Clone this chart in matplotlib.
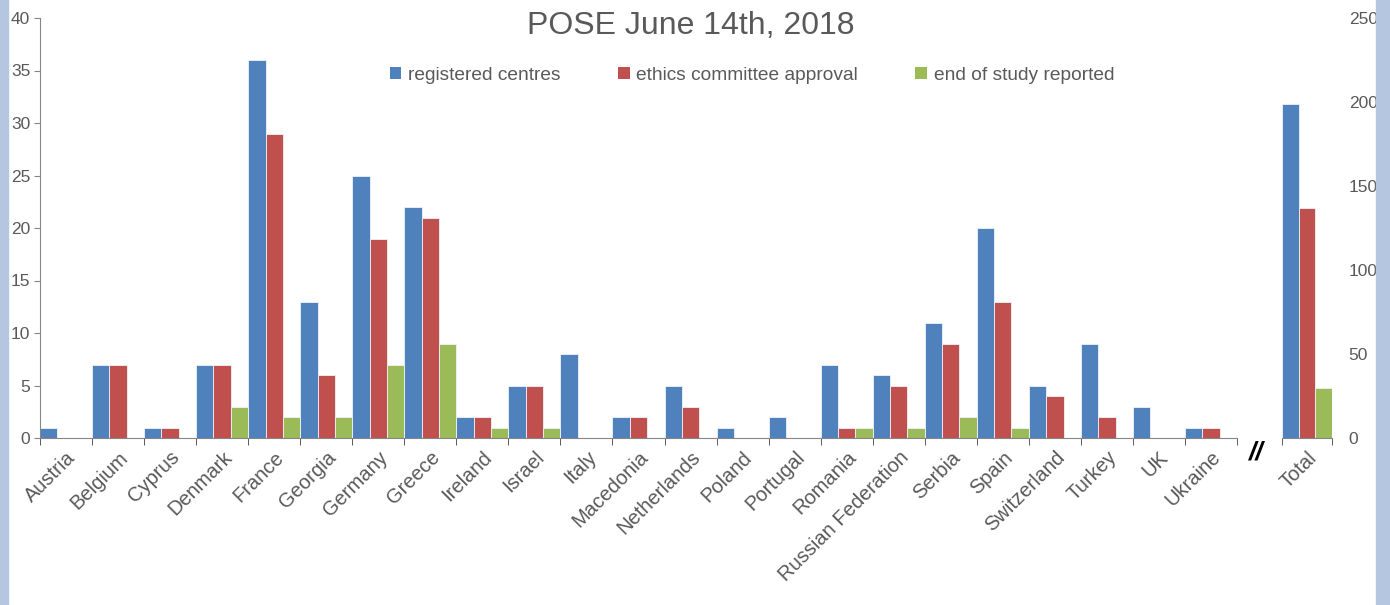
import matplotlib.pyplot as plt
from matplotlib.patches import Patch, Rectangle
import numpy as np

plt.rcParams['font.family'] = ['Liberation Sans', 'DejaVu Sans']

# data
countries = ['Austria', 'Belgium', 'Cyprus', 'Denmark', 'France', 'Georgia', 'Germany',
             'Greece', 'Ireland', 'Israel', 'Italy', 'Macedonia', 'Netherlands', 'Poland',
             'Portugal', 'Romania', 'Russian Federation', 'Serbia', 'Spain', 'Switzerland',
             'Turkey', 'UK', 'Ukraine']
registered = [1, 7, 1, 7, 36, 13, 25, 22, 2, 5, 8, 2, 5, 1, 2, 7, 6, 11, 20, 5, 9, 3, 1]
ethics = [0, 7, 1, 7, 29, 6, 19, 21, 2, 5, 0, 2, 3, 0, 0, 1, 5, 9, 13, 4, 2, 0, 1]
ended = [0, 0, 0, 3, 2, 2, 7, 9, 1, 1, 0, 0, 0, 0, 0, 1, 1, 2, 1, 0, 0, 0, 0]
total_label = 'Total'
total_values = [199, 137, 30]

series_names = ['registered centres', 'ethics committee approval', 'end of study reported']
colors = ['#4F81BD', '#C0504D', '#9BBB59']
grey = '#595959'
spine_col = '#868686'

W, H = 1390, 605
fig = plt.figure(figsize=(W / 100, H / 100), dpi=100)

# light blue frame strips on the sides
fig.patches.append(Rectangle((0, 0), 8 / W, 1, transform=fig.transFigure,
                             color='#B4C6E0', zorder=0))
fig.patches.append(Rectangle((1376 / W, 0), 14 / W, 1, transform=fig.transFigure,
                             color='#B4C6E0', zorder=0))

# main axis with the countries
ax = fig.add_axes([40 / W, 1 - 438 / H, (1237 - 40) / W, (438 - 18) / H])
x = np.arange(len(countries))
bw = 1 / 3
for i, vals in enumerate([registered, ethics, ended]):
    ax.bar(x + (i - 1) * bw, vals, bw, color=colors[i], edgecolor='#EEF3FA', linewidth=0.6)

ax.set_xlim(-0.5, len(countries) - 0.5)
ax.set_ylim(0, 40)
ax.set_yticks(range(0, 41, 5))
ax.set_xticks(x)
ax.set_xticklabels(countries, rotation=45, ha='right', rotation_mode='anchor',
                   fontsize=14.5, color=grey)
ax.set_xticks(np.arange(-0.5, len(countries), 1), minor=True)
ax.tick_params(axis='x', which='major', length=0, pad=7)
ax.tick_params(axis='x', which='minor', length=5, color='#404040', direction='out')
ax.tick_params(axis='y', length=4, color=spine_col, labelsize=12.5, labelcolor=grey, pad=3)
for s in ['top', 'right']:
    ax.spines[s].set_visible(False)
ax.spines['left'].set_color(spine_col)
ax.spines['bottom'].set_color(spine_col)
ax.patch.set_alpha(0)

# separate axis for the total, scaled on the right
ax2 = fig.add_axes([1282 / W, 1 - 438 / H, 50 / W, (438 - 18) / H])
for i, v in enumerate(total_values):
    ax2.bar((i - 1) * bw, v, bw, color=colors[i], edgecolor='#EEF3FA', linewidth=0.6)
ax2.set_xlim(-0.5, 0.5)
ax2.set_ylim(0, 250)
ax2.set_xticks([0])
ax2.set_xticklabels([total_label], rotation=45, ha='right', rotation_mode='anchor',
                    fontsize=14.5, color=grey)
ax2.set_xticks([-0.5, 0.5], minor=True)
ax2.tick_params(axis='x', which='major', length=0, pad=7)
ax2.tick_params(axis='x', which='minor', length=5, color='#404040', direction='out')
ax2.yaxis.tick_right()
ax2.set_yticks(range(0, 251, 50))
ax2.tick_params(axis='y', length=0, labelsize=12.5, labelcolor=grey, pad=12)
for s in ['top', 'right', 'left']:
    ax2.spines[s].set_visible(False)
ax2.spines['bottom'].set_color(spine_col)
ax2.patch.set_alpha(0)

# axis break mark
fig.text(1256 / W, 1 - 452 / H, '//', fontsize=19, ha='center', va='center',
         color='black', style='italic', fontweight='bold')

fig.text(0.497, 1 - 26 / H, 'POSE June 14th, 2018', fontsize=23, ha='center',
         va='center', color=grey)

handles = [Patch(facecolor=c, edgecolor='none') for c in colors]
fig.legend(handles, series_names, loc='center', bbox_to_anchor=(0.541, 1 - 75 / H),
           ncol=3, frameon=False, fontsize=13.8, handlelength=0.6, handleheight=0.6,
           handletextpad=0.35, columnspacing=3.0, labelcolor=grey)

fig.savefig('out.png', dpi=100)
